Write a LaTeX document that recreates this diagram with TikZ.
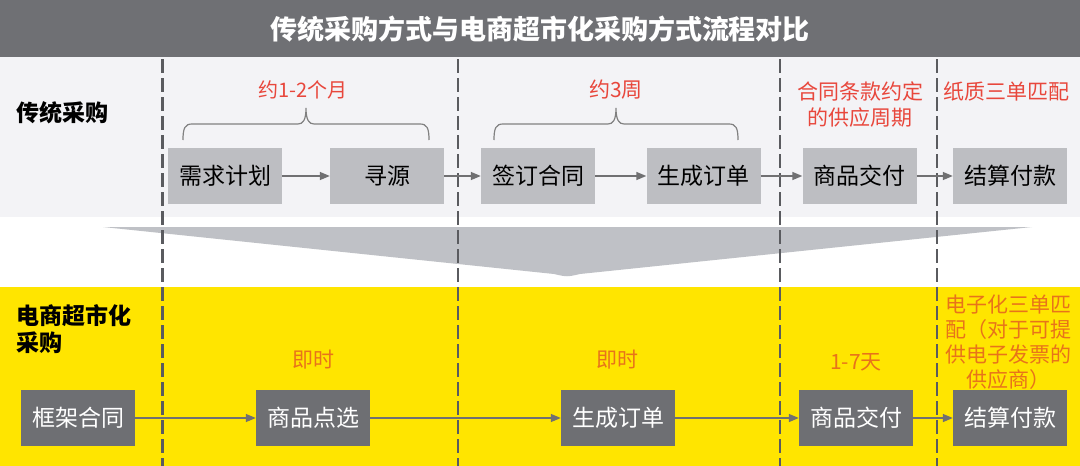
\documentclass[tikz,border=0pt]{standalone}
\usepackage{fontspec}
\setmainfont{Noto Sans CJK SC}
\usetikzlibrary{arrows.meta}
\definecolor{titlegray}{HTML}{6F7074}
\definecolor{lightbg}{HTML}{F3F3F6}
\definecolor{topgray}{HTML}{BDBEC2}
\definecolor{botgray}{HTML}{6E6F73}
\definecolor{ybg}{HTML}{FFE500}
\definecolor{trigray}{HTML}{BFC1C6}
\definecolor{dashgray}{HTML}{5A5B5F}
\definecolor{arrowgray}{HTML}{707072}
\definecolor{lblred}{HTML}{E8473C}
\definecolor{lblorange}{HTML}{E8731A}
\tikzset{
  topbox/.style={fill=topgray, text=black, minimum width=114pt, minimum height=56pt, inner sep=0pt, font=\fontsize{23}{23}\selectfont},
  botbox/.style={fill=botgray, text=white, minimum width=114pt, minimum height=56pt, inner sep=0pt, font=\fontsize{23}{23}\selectfont},
  flow/.style={draw=arrowgray, line width=1.5pt, -{Triangle[length=10pt,width=8pt]}},
  dashline/.style={draw=dashgray, line width=2.2pt, dash pattern=on 14pt off 5pt},
  bracel/.style={draw=gray, line width=1.2pt},
  redlbl/.style={text=lblred, inner sep=0pt, align=center, font=\fontsize{21}{26}\selectfont},
  orglbl/.style={text=lblorange, inner sep=0pt, align=center, font=\fontsize{21}{25}\selectfont},
  rowlbl/.style={text=black, inner sep=0pt, align=left, anchor=west, font=\fontsize{23}{27}\selectfont\bfseries}
}
\begin{document}
\begin{tikzpicture}[x=1pt,y=-1pt]
\useasboundingbox (0,0) rectangle (1080,466);
% backgrounds
\fill[white] (0,0) rectangle (1080,466);
\fill[lightbg] (0,57) rectangle (1080,217);
\fill[ybg] (0,287) rectangle (1080,466);
\fill[titlegray] (0,0) rectangle (1080,57);
\node[text=white, inner sep=0pt, font=\fontsize{27}{27}\selectfont\bfseries] (title) at (540,29) {传统采购方式与电商超市化采购方式流程对比};
% transition triangle
\fill[trigray] (103,227) -- (1032,227) -- (580,274) .. controls (567,277) .. (554,274) -- cycle;
% dashed separators
\draw[dashline] (162.5,59) -- (162.5,466);
\draw[dashline] (458,59) -- (458,466);
\draw[dashline] (780,59) -- (780,466);
\draw[dashline] (937,59) -- (937,466);
% row labels
\node[rowlbl] (lbltrad) at (16,113) {传统采购};
\node[rowlbl] (lblec) at (16,329) {电商超市化\\采购};
% top labels
\node[redlbl, font=\fontsize{20}{26}\selectfont] (t1) at (303,90) {约1-2个月};
\node[redlbl] (t2) at (616,90) {约3周};
\node[redlbl] (t3) at (860,105) {合同条款约定\\的供应周期};
\node[redlbl] (t4) at (1006,92) {纸质三单匹配};
% braces
\draw[bracel] (183,140) .. controls (183,128) and (185,124) .. (192,124) -- (298,124) .. controls (303,124) and (306,120) .. (306,108) .. controls (306,120) and (309,124) .. (314,124) -- (420,124) .. controls (427,124) and (429,128) .. (429,140);
\draw[bracel] (494,140) .. controls (494,128) and (496,124) .. (503,124) -- (608,124) .. controls (613,124) and (616,120) .. (616,108) .. controls (616,120) and (619,124) .. (624,124) -- (729,124) .. controls (736,124) and (738,128) .. (738,140);
% top flow
\node[topbox] (a1) at (225,176) {需求计划};
\node[topbox] (a2) at (387,176) {寻源};
\node[topbox] (a3) at (538,176) {签订合同};
\node[topbox] (a4) at (703.5,176) {生成订单};
\node[topbox] (a5) at (859.5,176) {商品交付};
\node[topbox] (a6) at (1010,176) {结算付款};
\draw[flow] (a1) -- (a2);
\draw[flow] (a2) -- (a3);
\draw[flow] (a3) -- (a4);
\draw[flow] (a4) -- (a5);
\draw[flow] (a5) -- (a6);
% bottom labels
\node[orglbl] (b1l) at (313,360) {即时};
\node[orglbl] (b2l) at (617,360) {即时};
\node[orglbl] (b3l) at (856,362) {1-7天};
\node[orglbl] (b4l) at (1008,342) {电子化三单匹\\配（对于可提\\供电子发票的\\供应商）};
% bottom flow
\node[botbox] (b1) at (78,418) {框架合同};
\node[botbox] (b2) at (313,418) {商品点选};
\node[botbox] (b3) at (618,418) {生成订单};
\node[botbox] (b4) at (856,418) {商品交付};
\node[botbox] (b5) at (1010,418) {结算付款};
\draw[flow] (b1) -- (b2);
\draw[flow] (b2) -- (b3);
\draw[flow] (b3) -- (b4);
\draw[flow] (b4) -- (b5);
\end{tikzpicture}
\end{document}
